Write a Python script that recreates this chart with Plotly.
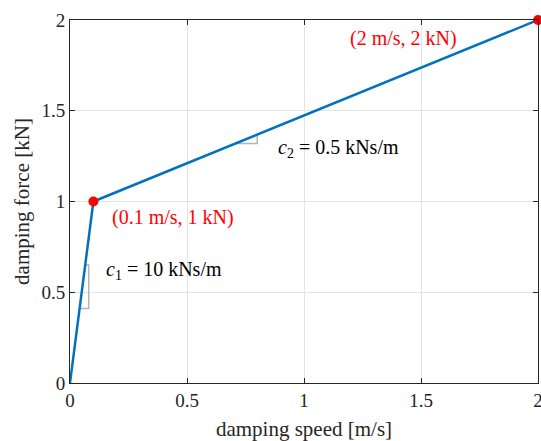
import plotly.graph_objects as go

# data
speed = [0, 0.1, 2]          # m/s
force = [0, 1, 2]            # kN
pt_speed = [0.1, 2]
pt_force = [1, 2]
tri1_x = [0.065, 0.08, 0.08, 0.041]
tri1_y = [0.65, 0.65, 0.41, 0.41]
tri2_x = [0.708, 0.8, 0.8]
tri2_y = [1.32, 1.32, 1.368]
x_ticks = [0, 0.5, 1, 1.5, 2]
y_ticks = [0, 0.5, 1, 1.5, 2]

FONT = "Liberation Serif"
fig = go.Figure()
fig.add_trace(go.Scatter(x=tri1_x, y=tri1_y, mode="lines",
                         line=dict(color="#B5B5B5", width=1.5), hoverinfo="skip"))
fig.add_trace(go.Scatter(x=tri2_x, y=tri2_y, mode="lines",
                         line=dict(color="#B5B5B5", width=1.5), hoverinfo="skip"))
fig.add_trace(go.Scatter(x=speed, y=force, mode="lines",
                         line=dict(color="#0072BD", width=2.5)))
fig.add_trace(go.Scatter(x=pt_speed, y=pt_force, mode="markers",
                         marker=dict(color="#FF0000", size=10), cliponaxis=False))

ann_font = dict(family=FONT, size=20)
fig.add_annotation(x=0.17, y=0.91, text="(0.1 m/s, 1 kN)", showarrow=False,
                   xanchor="left", yanchor="middle", font=dict(ann_font, color="#FF0000"))
fig.add_annotation(x=1.19, y=1.90, text="(2 m/s, 2 kN)", showarrow=False,
                   xanchor="left", yanchor="middle", font=dict(ann_font, color="#FF0000"))
fig.add_annotation(x=0.145, y=0.62, text="<i>c</i><sub>1</sub> = 10 kNs/m", showarrow=False,
                   xanchor="left", yanchor="middle", font=dict(ann_font, color="#000000"))
fig.add_annotation(x=0.88, y=1.29, text="<i>c</i><sub>2</sub> = 0.5 kNs/m", showarrow=False,
                   xanchor="left", yanchor="middle", font=dict(ann_font, color="#000000"))

axis_common = dict(showline=True, mirror="ticks", linecolor="#262626", linewidth=1,
                   ticks="inside", ticklen=5, tickcolor="#262626",
                   showgrid=True, gridcolor="#E3E3E3", gridwidth=1, zeroline=False,
                   automargin=False, ticklabeloverflow="allow",
                   tickfont=dict(family=FONT, size=19, color="#262626"))
fig.update_xaxes(range=[0, 2], tickvals=x_ticks, ticktext=["0", "0.5", "1", "1.5", "2"],
                 title=dict(text="damping speed [m/s]", font=dict(family=FONT, size=21, color="#262626"),
                            standoff=16), **axis_common)
fig.update_yaxes(range=[0, 2], tickvals=y_ticks, ticktext=["0", "0.5", "1", "1.5", "2"],
                 title=dict(text="damping force [kN]", font=dict(family=FONT, size=21, color="#262626"),
                            standoff=6), **axis_common)
fig.update_layout(width=541, height=441, showlegend=False,
                  margin=dict(l=70, r=3, t=20, b=58),
                  plot_bgcolor="white", paper_bgcolor="white")
fig.write_html("out.html", config={"displayModeBar": False},
               post_script="document.body.style.margin='0';document.body.style.overflow='hidden';")
